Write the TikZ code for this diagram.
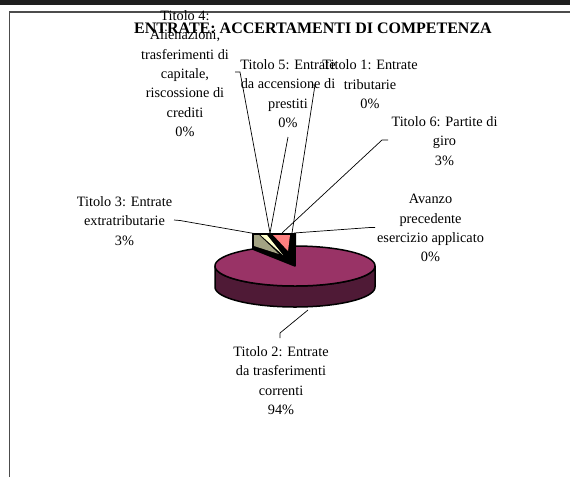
\documentclass[tikz,border=0pt]{standalone}
\usepackage{fontspec}
\setmainfont{Liberation Serif}
\definecolor{plumtop}{HTML}{993366}
\definecolor{plumside}{HTML}{4F1A36}
\definecolor{salmon}{HTML}{FF8080}
\definecolor{paleyel}{HTML}{FFFFCC}
\definecolor{olivesh}{HTML}{A3A383}
\begin{document}
\begin{tikzpicture}[x=1pt,y=-1pt,
  lbl/.style={align=center,anchor=north,inner sep=0pt,font=\fontsize{14.3}{19.4}\selectfont},
  leader/.style={draw=black,line width=0.7pt},
  pieedge/.style={draw=black,line width=1.5pt,line join=round}]
\useasboundingbox (0,0) rectangle (570,477);
% frame
\fill[black!88] (0,0) rectangle (570,4.5);
\draw[black!70,line width=1.3pt] (9.5,477) -- (9.5,12) -- (571,12);
% exploded small slices
\fill[black] (252,233) -- (296,233) -- (296,266) -- (252,250) -- cycle;
\fill[olivesh] (254,235) -- (259,235) -- (279,254) -- (254,246) -- cycle;
\fill[paleyel] (260.5,235) -- (267,235) -- (283,255) -- cycle;
\fill[salmon] (273,235) -- (290,235) -- (288,251) -- cycle;
% pie side
\draw[pieedge,fill=plumside] plot[domain=0:180,samples=90] ({295+80*cos(\x)},{266+20*sin(\x)})
   -- plot[domain=180:0,samples=90] ({295+80*cos(\x)},{287+20*sin(\x)}) -- cycle;
% pie top
\draw[pieedge,fill=plumtop] (295,266) -- plot[domain=270:598,samples=160] ({295+80*cos(\x)},{266+20*sin(\x)}) -- cycle;
% labels
\node[lbl] (t4) at (185,10.2) {Titolo 4:\\Alienazioni,\\trasferimenti di\\capitale,\\riscossione di\\crediti\\0\%};
\node[font=\fontsize{16}{19}\selectfont\bfseries,anchor=base,inner sep=0pt] (title) at (313,33) {ENTRATE: ACCERTAMENTI DI COMPETENZA};
\node[lbl] (t5) at (288,59.2) {Titolo 5: Entrate\\da accensione di\\prestiti\\0\%};
\node[lbl] (t1) at (370,59.5) {Titolo 1: Entrate\\tributarie\\0\%};
\node[lbl] (t6) at (444.5,116.2) {Titolo 6: Partite di\\giro\\3\%};
\node[lbl] (av) at (430.5,194) {Avanzo\\precedente\\esercizio applicato\\0\%};
\node[lbl] (t3) at (124.5,196.2) {Titolo 3: Entrate\\extratributarie\\3\%};
\node[lbl] (t2) at (281,346.2) {Titolo 2: Entrate\\da trasferimenti\\correnti\\94\%};
% leader lines
\coordinate (p4a) at (235,72); \coordinate (p4b) at (240,72); \coordinate (e4) at (270,233);
\coordinate (p5) at (288,137); \coordinate (e5) at (270,233);
\coordinate (p1a) at (312,85); \coordinate (p1b) at (315,85); \coordinate (e1) at (292,233);
\coordinate (p6a) at (388,140); \coordinate (p6b) at (382,140); \coordinate (e6) at (282,233);
\coordinate (pava) at (375,227.5); \coordinate (pavb) at (370,227.5); \coordinate (eav) at (294,233);
\coordinate (p3a) at (174,220); \coordinate (p3b) at (180,220.5); \coordinate (e3) at (257,234);
\coordinate (p2a) at (280,338); \coordinate (p2b) at (280,333); \coordinate (e2) at (308,310);
\draw[leader] (p4a) -- (p4b) -- (e4);
\draw[leader] (p5) -- (e5);
\draw[leader] (p1a) -- (p1b) -- (e1);
\draw[leader] (p6a) -- (p6b) -- (e6);
\draw[leader] (pava) -- (pavb) -- (eav);
\draw[leader] (p3a) -- (p3b) -- (e3);
\draw[leader] (p2a) -- (p2b) -- (e2);
\end{tikzpicture}
\end{document}
